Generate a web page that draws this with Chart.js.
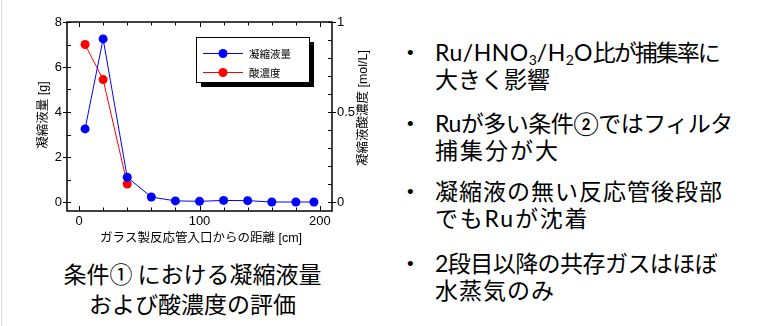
<!DOCTYPE html>
<html>
<head>
<meta charset="utf-8">
<script src="https://cdn.jsdelivr.net/npm/chart.js@4/dist/chart.umd.min.js"></script>
<style>
  html, body { margin: 0; padding: 0; background: #fff; }
  body { width: 765px; height: 326px; position: relative; overflow: hidden; font-family: "Noto Sans CJK JP", sans-serif; color: #000; }
  #edge { position: absolute; left: 1px; top: 0; width: 1px; height: 326px; background: #dcdcdc; }
  #wrap { position: absolute; left: 0; top: 0; width: 390px; height: 255px; }
  #caption { position: absolute; left: 0; width: 385px; top: 258px; text-align: center; font-size: 23px; line-height: 30px; }
  .pt { position: absolute; left: 404px; font-family: Lato, "Noto Sans CJK JP", sans-serif; font-size: 23px; line-height: 27px; white-space: nowrap; }
  .pt .b { position: absolute; left: 3px; top: 0; font-family: "Liberation Sans", sans-serif; font-size: 19px; }
  .pt .l { display: block; margin-left: 31px; }
  .pt sub { font-size: 14px; line-height: 0; vertical-align: -4px; letter-spacing: 0; }
</style>
</head>
<body>
<div id="edge"></div>
<div id="wrap"><canvas id="c" width="390" height="255"></canvas></div>
<div id="caption">条件① における凝縮液量<br>および酸濃度の評価</div>

<div class="pt" style="top:39px"><span class="b">•</span>
  <span class="l" style="letter-spacing:0.5px">Ru/HNO<sub>3</sub>/H<sub>2</sub>O<span style="letter-spacing:-2px">比が捕集率に</span></span>
  <span class="l" style="letter-spacing:0">大きく影響</span></div>
<div class="pt" style="top:110px"><span class="b">•</span>
  <span class="l" style="letter-spacing:-0.5px">Ruが多い条件②ではフィルタ</span>
  <span class="l" style="letter-spacing:2px">捕集分が大</span></div>
<div class="pt" style="top:178px"><span class="b">•</span>
  <span class="l" style="letter-spacing:1px">凝縮液の無い反応管後段部</span>
  <span class="l" style="letter-spacing:1.8px">でもRuが沈着</span></div>
<div class="pt" style="top:250px"><span class="b">•</span>
  <span class="l" style="letter-spacing:-0.55px">2段目以降の共存ガスはほぼ</span>
  <span class="l" style="letter-spacing:1px">水蒸気のみ</span></div>

<script>
// Distance from the glass reactor inlet [cm]
const distances = [5, 20, 40, 60, 80, 100, 120, 140, 160, 180, 195];
// Condensate amount [g]
const condensate = [3.25, 7.25, 1.1, 0.22, 0.05, 0.03, 0.07, 0.06, 0.0, 0.0, 0.0];
// Acid concentration of the condensate [mol/L]
const acidDistances = [5, 20, 40];
const acidConc = [0.875, 0.68, 0.1];

// Tick labels
const xTickValues = [0, 100, 200];
const yTickValues = [0, 2, 4, 6, 8];
const y2TickValues = [0, 0.5, 1];

const xTitle = 'ガラス製反応管入口からの距離 [cm]';
const yTitle = '凝縮液量 [g]';
const y2Title = '凝縮液酸濃度 [mol/L]';

const tickFont = { family: "'Liberation Sans', Arial, sans-serif", size: 13 };
const titleFont = "12.5px 'Liberation Sans', 'Noto Sans CJK JP', sans-serif";

function fixedTicks(values) {
  return (scale) => { scale.ticks = values.map(v => ({ value: v })); };
}

// Frame, inward minor ticks, outward major ticks, axis titles and the boxed legend
const framePlugin = {
  id: 'frame',
  afterDraw(chart) {
    const c = chart.ctx;
    const a = chart.chartArea;
    const sx = chart.scales.x, sy = chart.scales.y, sy2 = chart.scales.y2;
    c.save();
    c.strokeStyle = '#000';
    c.lineWidth = 1.5;
    c.strokeRect(a.left, a.top, a.right - a.left, a.bottom - a.top);

    c.lineWidth = 1;
    c.beginPath();
    // x: every 20 cm, bottom and top, inward
    for (let v = 0; v <= 200; v += 20) {
      const px = Math.round(sx.getPixelForValue(v)) + 0.5;
      const len = (v % 100 === 0) ? 5 : 3.5;
      c.moveTo(px, a.bottom); c.lineTo(px, a.bottom - len);
      c.moveTo(px, a.top); c.lineTo(px, a.top + len);
    }
    // left: every 1 g inward, majors also outward
    for (let v = 0; v <= 8; v += 1) {
      const py = Math.round(sy.getPixelForValue(v)) + 0.5;
      c.moveTo(a.left, py); c.lineTo(a.left + 4, py);
      if (v % 2 === 0) { c.moveTo(a.left, py); c.lineTo(a.left - 4, py); }
    }
    // right: every 0.1 mol/L inward, majors also outward
    for (let i = 0; i <= 10; i++) {
      const v = i / 10;
      const py = Math.round(sy2.getPixelForValue(v)) + 0.5;
      c.moveTo(a.right, py); c.lineTo(a.right - 4, py);
      if (i % 5 === 0) { c.moveTo(a.right, py); c.lineTo(a.right + 4, py); }
    }
    c.stroke();

    // axis titles
    c.fillStyle = '#000';
    c.font = titleFont;
    c.textAlign = 'center';
    c.textBaseline = 'middle';
    c.fillText(xTitle, 201, 239);
    c.save(); c.translate(44, 115); c.rotate(-Math.PI / 2); c.fillText(yTitle, 0, 0); c.restore();
    c.save(); c.translate(364, 108); c.rotate(-Math.PI / 2); c.fillText(y2Title, 0, 0); c.restore();

    // legend box with drop shadow
    const lx = 196, ly = 37, lw = 113, lh = 45;
    c.fillStyle = '#000';
    c.fillRect(lx + 5, ly + 5, lw, lh);
    c.fillStyle = '#fff';
    c.fillRect(lx, ly, lw, lh);
    c.strokeStyle = '#000';
    c.lineWidth = 1;
    c.strokeRect(lx + 0.5, ly + 0.5, lw, lh);
    c.font = "10.5px 'Noto Sans CJK JP', sans-serif";
    c.textAlign = 'left';
    chart.data.datasets.forEach((ds, i) => {
      const ry = 53 + i * 19;
      c.strokeStyle = ds.borderColor;
      c.beginPath(); c.moveTo(203, ry + 0.5); c.lineTo(243, ry + 0.5); c.stroke();
      c.fillStyle = ds.backgroundColor;
      c.beginPath(); c.arc(223, ry + 0.5, 4.5, 0, Math.PI * 2); c.fill();
      c.fillStyle = '#000';
      c.fillText(ds.label, 249, ry + 1);
    });
    c.restore();
  }
};

new Chart(document.getElementById('c'), {
  type: 'line',
  data: {
    datasets: [
      {
        label: '凝縮液量',
        data: distances.map((d, i) => ({ x: d, y: condensate[i] })),
        borderColor: '#0000ff', backgroundColor: '#0000ff',
        borderWidth: 1, pointRadius: 4.5, pointBorderWidth: 0,
        yAxisID: 'y', order: 1
      },
      {
        label: '酸濃度',
        data: acidDistances.map((d, i) => ({ x: d, y: acidConc[i] })),
        borderColor: '#ff0000', backgroundColor: '#ff0000',
        borderWidth: 1, pointRadius: 4.5, pointBorderWidth: 0,
        yAxisID: 'y2', order: 2
      }
    ]
  },
  options: {
    responsive: false,
    animation: false,
    layout: { padding: { top: 22, left: 0, right: 0, bottom: 0 } },
    plugins: { legend: { display: false }, tooltip: { enabled: false } },
    scales: {
      x: {
        type: 'linear', min: -10, max: 210,
        afterBuildTicks: fixedTicks(xTickValues),
        afterFit: (s) => { s.height = 44; },
        grid: { display: false, drawTicks: false }, border: { display: false },
        ticks: { font: tickFont, color: '#000', padding: 3, maxRotation: 0 }
      },
      y: {
        position: 'left', min: -0.4, max: 8,
        afterBuildTicks: fixedTicks(yTickValues),
        afterFit: (s) => { s.width = 67; },
        grid: { display: false, drawTicks: false }, border: { display: false },
        ticks: { font: tickFont, color: '#000', padding: 5 }
      },
      y2: {
        position: 'right', min: -0.05, max: 1,
        afterBuildTicks: fixedTicks(y2TickValues),
        afterFit: (s) => { s.width = 58; },
        grid: { display: false, drawTicks: false }, border: { display: false },
        ticks: { font: tickFont, color: '#000', padding: 5, callback: (v) => String(v) }
      }
    }
  },
  plugins: [framePlugin]
});
</script>
</body>
</html>
